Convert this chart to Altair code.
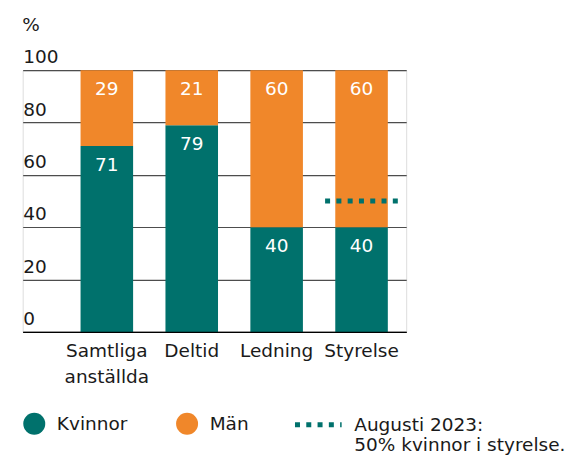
import altair as alt
import pandas as pd

# ---- data ----
categories = ["Samtliga|anställda", "Deltid", "Ledning", "Styrelse"]
kvinnor = [71, 79, 40, 40]
man = [29, 21, 60, 60]
genders = ["Kvinnor", "Män"]
colors = ["#00716c", "#f0872a"]
target_category = "Styrelse"
target_value = 50
target_label = "Augusti 2023:|50% kvinnor i styrelse."
y_ticks = [0, 20, 40, 60, 80, 100]

rows = []
for c, k, m in zip(categories, kvinnor, man):
    rows.append({"cat": c, "gender": genders[0], "ord": 0, "value": k})
    rows.append({"cat": c, "gender": genders[1], "ord": 1, "value": m})
df = pd.DataFrame(rows)
target_df = pd.DataFrame({"cat": [target_category], "value": [target_value], "note": [target_label]})

FONT = "DejaVu Sans"
FS = 18.5
TXT = "#1a1a1a"
TEAL = colors[0]

xscale = alt.Scale(domain=categories, paddingInner=0.381, paddingOuter=0.449, align=0.759)
yscale = alt.Scale(domain=[0, 100], nice=False)

x_axis = alt.Axis(
    title=None, labelExpr="split(datum.label, '|')", labelAngle=0,
    ticks=False, tickSize=0, labelPadding=10, labelLineHeight=26,
    domain=True, domainColor="#000000", domainWidth=1.3, grid=False,
    labelFontSize=FS, labelFont=FONT, labelColor=TXT, zindex=1,
)
y_axis = alt.Axis(
    values=y_ticks, title="%", titleAngle=0, titleAlign="left",
    titleBaseline="alphabetic", titleX=-1, titleY=-40,
    titleFontSize=FS, titleFont=FONT, titleFontWeight="normal", titleColor=TXT,
    labelAlign="left", labelBaseline="alphabetic", labelOffset=-7.5,
    labelPadding=0, ticks=False, tickSize=0, domain=False,
    grid=True, gridColor="#4d4d4d", gridWidth=1.2,
    labelFontSize=FS, labelFont=FONT, labelColor=TXT, labelOverlap=False,
    zindex=0,
)

base = alt.Chart(df).transform_stack(
    stack="value", groupby=["cat"], as_=["y0", "y1"],
    sort=[alt.SortField("ord", order="ascending")],
)

bars = base.mark_bar().encode(
    x=alt.X("cat:N", scale=xscale, axis=x_axis, sort=categories),
    y=alt.Y("y0:Q", scale=yscale, axis=y_axis),
    y2="y1:Q",
    color=alt.Color(
        "gender:N",
        scale=alt.Scale(domain=genders, range=colors),
        legend=alt.Legend(
            title=None, orient="none", legendX=0.6, legendY=343,
            direction="horizontal", symbolType="circle", symbolSize=484,
            symbolStrokeWidth=0, labelFontSize=FS, labelFont=FONT,
            labelColor=TXT, labelOffset=11.6, columnPadding=48, padding=0,
        ),
    ),
)

labels = base.mark_text(
    color="white", fontSize=FS, font=FONT, baseline="alphabetic", dy=24.5
).encode(
    x=alt.X("cat:N", sort=categories),
    y=alt.Y("y1:Q"),
    text="value:Q",
)

rule = alt.Chart(target_df).mark_rule(
    color=TEAL, strokeWidth=5, xOffset=-36.5, x2Offset=36.5
).encode(
    x=alt.X("cat:N", sort=categories),
    x2=alt.X2("cat"),
    y=alt.Y("value:Q"),
    strokeDash=alt.StrokeDash(
        "note:N",
        scale=alt.Scale(domain=[target_label], range=[[5, 6.3]]),
        legend=alt.Legend(
            title=None, orient="none", legendX=270, legendY=329,
            symbolType="stroke", symbolSize=2181, symbolStrokeWidth=5,
            symbolStrokeColor=TEAL, symbolDash=[5, 5.4],
            labelFontSize=FS, labelFont=FONT, labelColor=TXT,
            labelBaseline="middle", labelOffset=10, labelLimit=400,
            labelExpr="split(datum.label, '|')", padding=0,
        ),
    ),
)

chart = alt.layer(bars, labels, rule).properties(
    width=384, height=262,
    autosize=alt.AutoSizeParams(type="none"),
    padding={"left": 14.7, "top": 62, "right": 162, "bottom": 125},
).configure_view(stroke=None).configure(font=FONT)

chart.save("out.html", embed_options={"renderer": "svg", "actions": False})
